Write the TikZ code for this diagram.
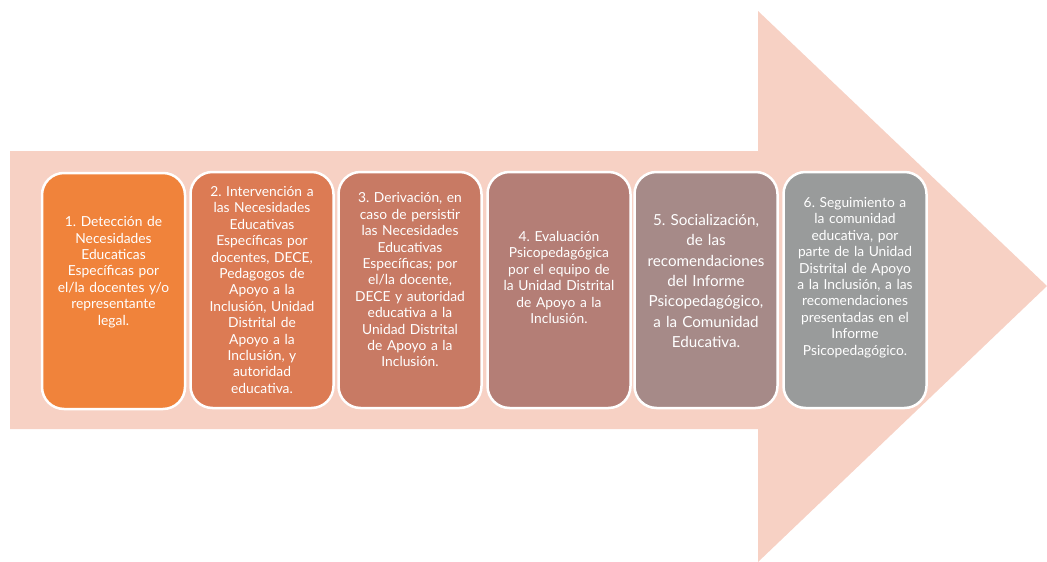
\documentclass[tikz,border=0pt]{standalone}
\usepackage{fontspec}
\setmainfont{Lato}
\frenchspacing
\definecolor{arrowbg}{HTML}{F7D1C4}
\definecolor{cone}{HTML}{F0833B}
\definecolor{ctwo}{HTML}{DC7B54}
\definecolor{cthree}{HTML}{C87A64}
\definecolor{cfour}{HTML}{B47E76}
\definecolor{cfive}{HTML}{A68A88}
\definecolor{csix}{HTML}{999B9B}
\tikzset{
  stepbox/.style={draw=white,line width=2.5pt,rounded corners=22pt,
    minimum width=143pt,minimum height=236pt,inner sep=0pt},
  steptext/.style={text=white,align=center,text width=134pt,inner sep=0pt,
    font=\fontsize{13.8pt}{16.4pt}\selectfont}
}
\begin{document}
\begin{tikzpicture}[x=1pt,y=-1pt]
  \useasboundingbox (0,0) rectangle (1047,562);
  % big arrow behind the steps
  \fill[arrowbg] (10,151) -- (758,151) -- (758,11) -- (1047,286)
    -- (758,562) -- (758,429) -- (10,429) -- cycle;

  \node[stepbox,fill=cone]   (b1) at (113.5,291) {};
  \node[stepbox,fill=ctwo]   (b2) at (262,290) {};
  \node[stepbox,fill=cthree] (b3) at (410,290) {};
  \node[stepbox,fill=cfour]  (b4) at (559,290) {};
  \node[stepbox,fill=cfive]  (b5) at (706,290) {};
  \node[stepbox,fill=csix]   (b6) at (855,290) {};

  \node[steptext] (t1) at (113.5,272) {1. Detección de\\ Necesidades\\ Educaticas\\ Específicas por\\ el/la docentes y/o\\ representante\\ legal.};
  \node[steptext] (t2) at (262,290) {2. Intervención a\\ las Necesidades\\ Educativas\\ Específicas por\\ docentes, DECE,\\ Pedagogos de\\ Apoyo a la\\ Inclusión, Unidad\\ Distrital de\\ Apoyo a la\\ Inclusión, y\\ autoridad\\ educativa.};
  \node[steptext] (t3) at (410,280) {3. Derivación, en\\ caso de persistir\\ las Necesidades\\ Educativas\\ Específicas; por\\ el/la docente,\\ DECE y autoridad\\ educativa a la\\ Unidad Distrital\\ de Apoyo a la\\ Inclusión.};
  \node[steptext] (t4) at (559,277.5) {4. Evaluación\\ Psicopedagógica\\ por el equipo de\\ la Unidad Distrital\\ de Apoyo a la\\ Inclusión.};
  \node[steptext,font=\fontsize{15.2pt}{20.3pt}\selectfont] (t5) at (706,281) {5. Socialización,\\ de las\\ recomendaciones\\ del Informe\\ Psicopedagógico,\\ a la Comunidad\\ Educativa.};
  \node[steptext] (t6) at (855,277.5) {6. Seguimiento a\\ la comunidad\\ educativa, por\\ parte de la Unidad\\ Distrital de Apoyo\\ a la Inclusión, a las\\ recomendaciones\\ presentadas en el\\ Informe\\ Psicopedagógico.};

\end{tikzpicture}
\end{document}
